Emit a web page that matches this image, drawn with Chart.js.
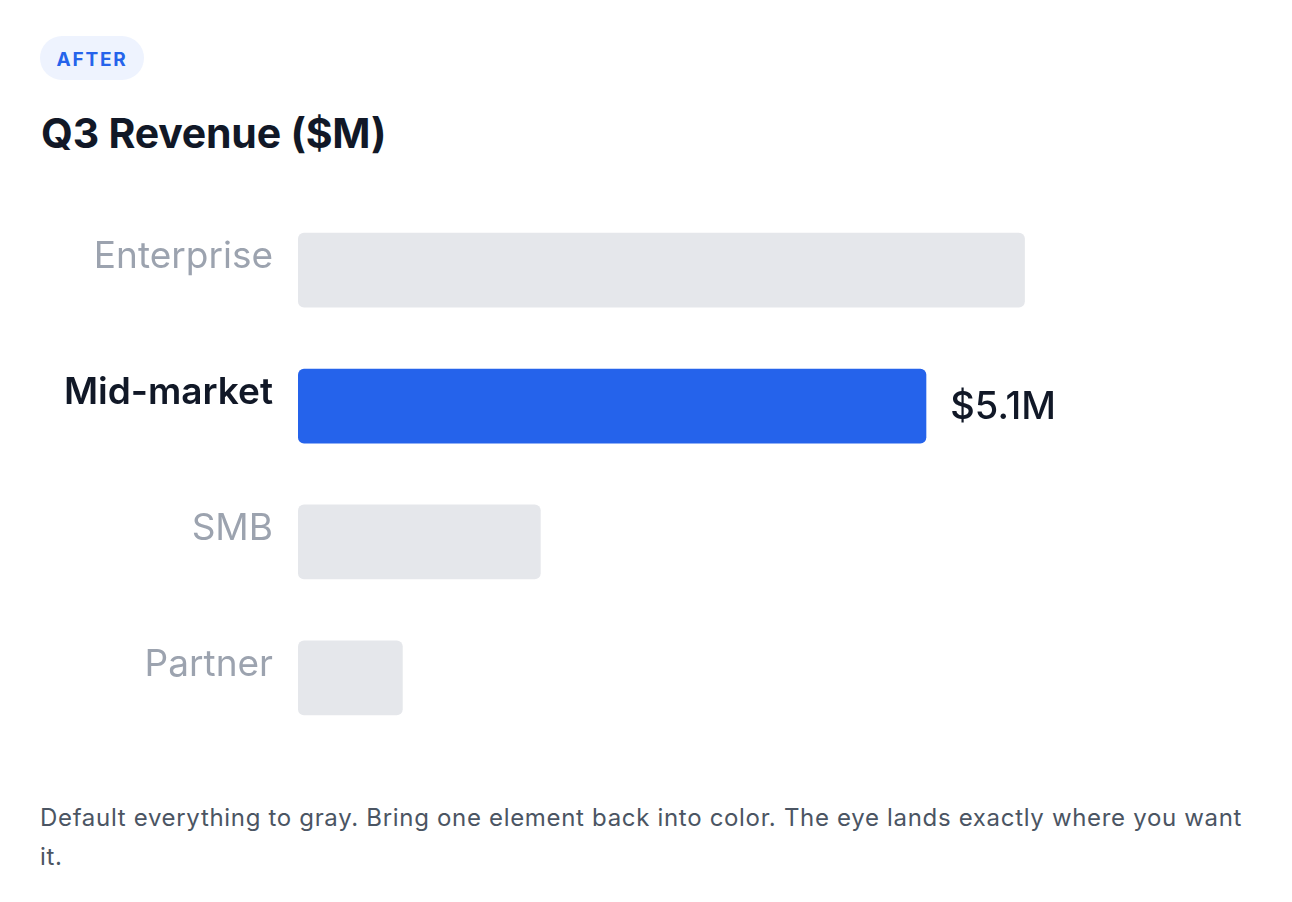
<!DOCTYPE html>
<html lang="en">
<head>
    <meta charset="UTF-8">
    <title>Q3 Revenue</title>
    <style>
        body { margin: 0; background: #ffffff; font-family: Inter, "Noto Sans", sans-serif; }
        .badge {
            position: absolute; left: 40px; top: 36px; width: 104px; height: 41px; padding-top: 3px;
            border-radius: 22px; background: #eef3fe; color: #2563eb;
            font-size: 19px; font-weight: 700; letter-spacing: 1.8px;
            line-height: 41px; text-align: center;
        }
        h1 {
            position: absolute; left: 41px; top: 108px; margin: 0;
            font-size: 41px; line-height: 50px; font-weight: 700; color: #111827; letter-spacing: -0.2px;
        }
        /* canvas is taller than the plot because the y ticks pad it top and bottom */
        .chart-box { position: absolute; left: 40px; top: 155px; width: 1182px; height: 638px; }
        .caption {
            position: absolute; left: 40px; top: 798px; width: 1215px; margin: 0;
            font-size: 24px; line-height: 39px; color: #4b5563; letter-spacing: 0.68px;
        }
    </style>
</head>
<body>

<div class="badge">AFTER</div>
<h1>Q3 Revenue ($M)</h1>

<div class="chart-box">
    <canvas id="revenueChart"></canvas>
</div>

<p class="caption">Default everything to gray. Bring one element back into color. The eye lands exactly where you want it.</p>

<script src="https://cdn.jsdelivr.net/npm/chart.js@4.4.1/dist/chart.umd.min.js"></script>
<script>
    // segments and Q3 revenue in $M
    const segments = ["Enterprise", "Mid-market", "SMB", "Partner"];
    const revenue = [5.9, 5.1, 1.97, 0.85];
    const highlight = 1; // the one bar that keeps its color
    const valueLabels = ["$5.9M", "$5.1M", "$2.0M", "$0.9M"];

    const grayBar = "#e5e7eb";
    const blueBar = "#2563eb";
    const grayText = "#9ca3af";
    const darkText = "#111827";

    // writes the value next to the highlighted bar only
    const valueLabelPlugin = {
        id: "valueLabel",
        afterDatasetsDraw(chart) {
            const ctx = chart.ctx;
            const bar = chart.getDatasetMeta(0).data[highlight];
            ctx.save();
            ctx.font = "500 38px Inter, 'Noto Sans', sans-serif";
            ctx.fillStyle = darkText;
            ctx.textAlign = "left";
            ctx.textBaseline = "middle";
            ctx.fillText(valueLabels[highlight], bar.x + 24, bar.y + 2);
            ctx.restore();
        }
    };

    function loadRevenueChart() {
        let colors = [];
        for (let i = 0; i < segments.length; i++) {
            colors.push(i === highlight ? blueBar : grayBar);
        }

        const ctx = document.getElementById("revenueChart").getContext("2d");
        const revenueChart = new Chart(ctx, {
            type: "bar",
            data: {
                labels: segments,
                datasets: [{
                    label: "Q3 Revenue",
                    data: revenue,
                    backgroundColor: colors,
                    borderRadius: 6,
                    borderSkipped: false,
                    categoryPercentage: 1,
                    barPercentage: 0.55
                }]
            },
            options: {
                indexAxis: "y",
                responsive: true,
                maintainAspectRatio: false,
                animation: false,
                layout: { padding: 0 },
                plugins: {
                    legend: { display: false },
                    tooltip: { enabled: false }
                },
                scales: {
                    x: {
                        display: false,
                        min: 0,
                        max: 7.5
                    },
                    y: {
                        border: { display: false },
                        grid: { display: false, drawTicks: false },
                        afterFit: function (scale) { scale.width = 258; },
                        ticks: {
                            padding: 25,
                            labelOffset: -13,
                            color: function (c) { return c.index === highlight ? darkText : grayText; },
                            font: function (c) {
                                return {
                                    family: "Inter, 'Noto Sans', sans-serif",
                                    size: 37,
                                    weight: c.index === highlight ? "600" : "400"
                                };
                            }
                        }
                    }
                }
            },
            plugins: [valueLabelPlugin]
        });
    }

    loadRevenueChart();
</script>
</body>
</html>
